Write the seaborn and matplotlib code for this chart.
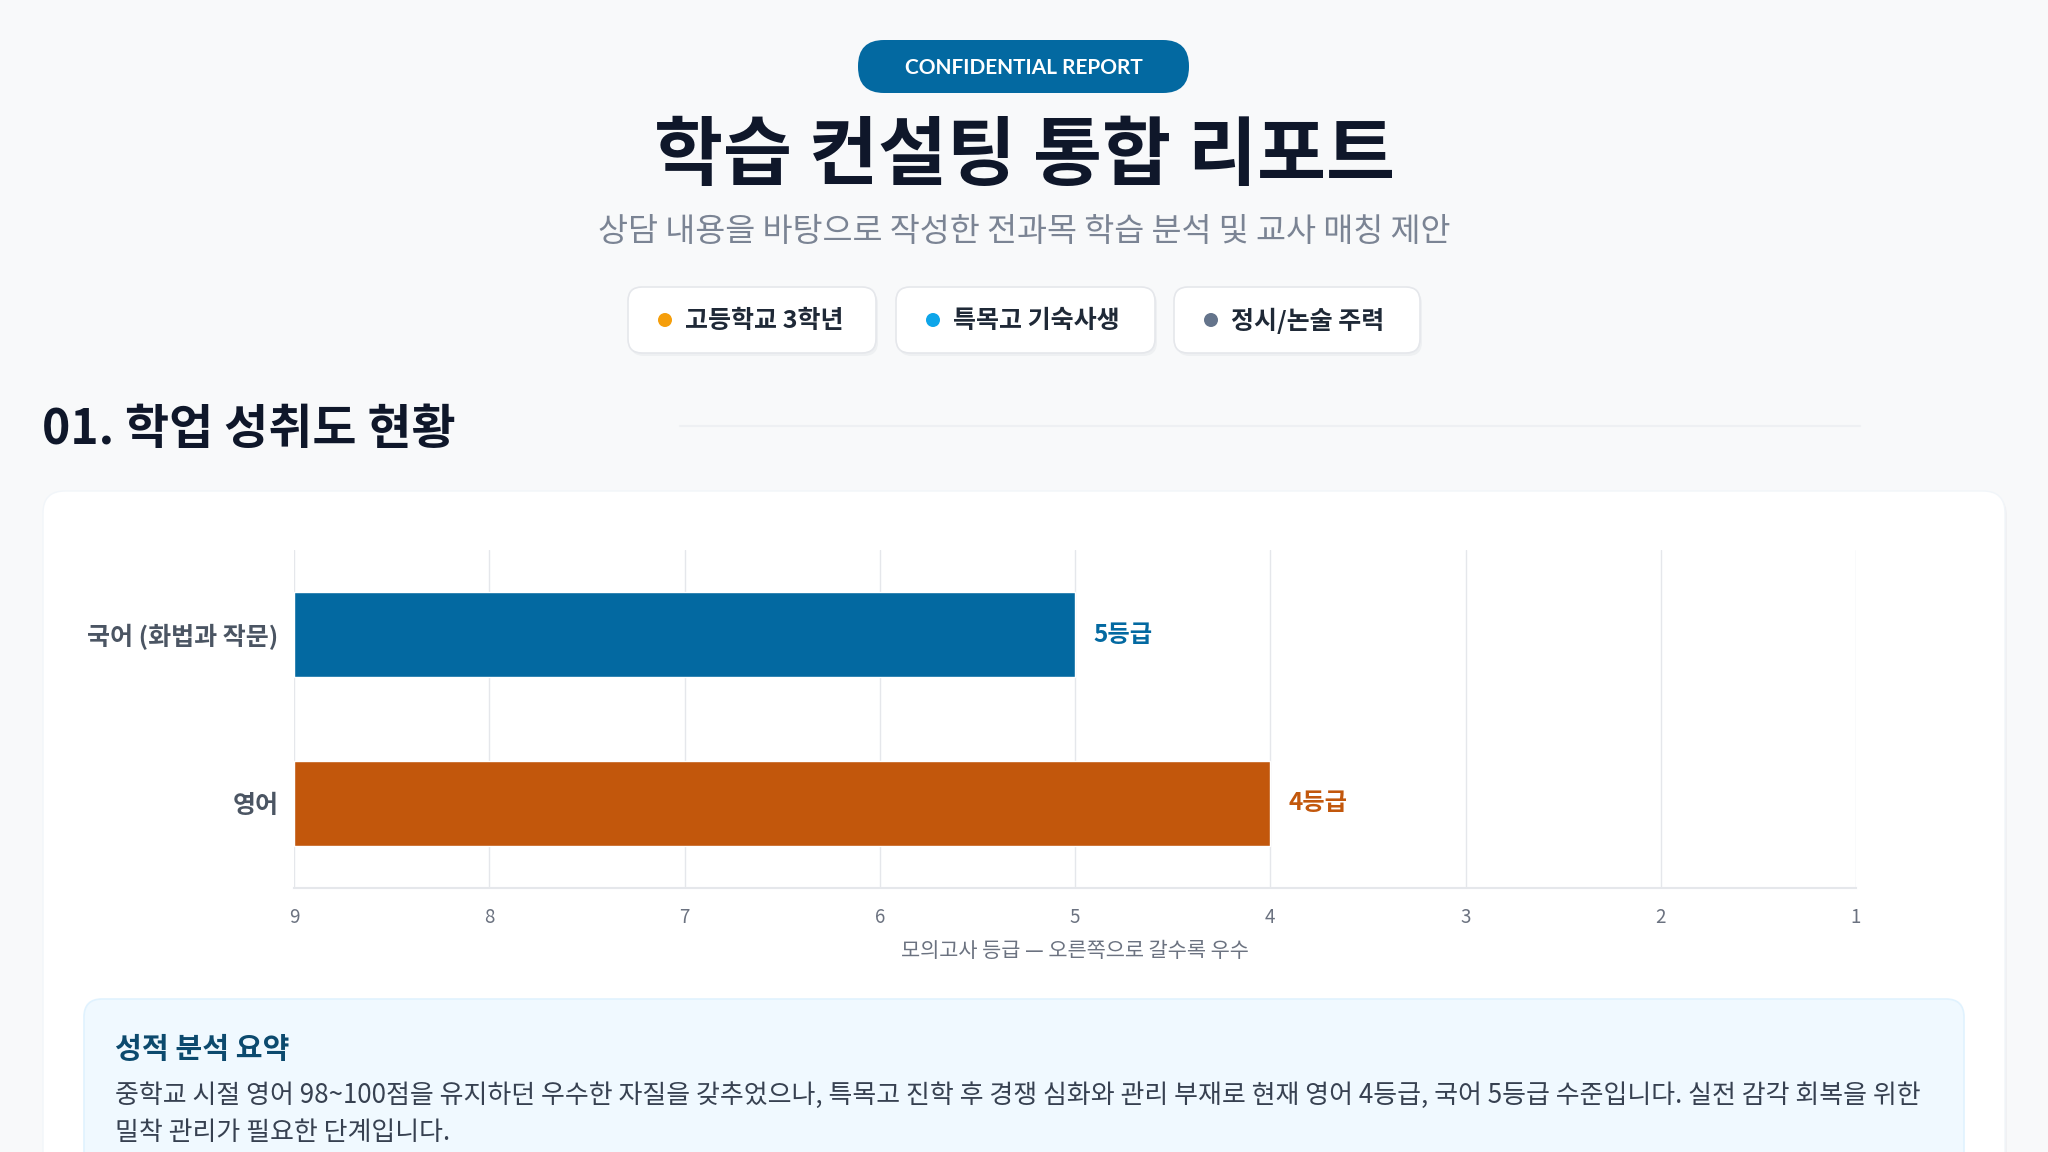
import seaborn as sns
import matplotlib.pyplot as plt
from matplotlib.patches import FancyBboxPatch, Circle

# data
subjects = ['국어 (화법과 작문)', '영어']
grades = [5, 4]
bar_colors = ['#0369A1', '#C2570C']
grade_ticks = [9, 8, 7, 6, 5, 4, 3, 2, 1]
worst_grade = 9

tags = ['고등학교 3학년', '특목고 기숙사생', '정시/논술 주력']
tag_dots = ['#F59E0B', '#0EA5E9', '#64748B']

badge_text = 'CONFIDENTIAL REPORT'
title = '학습 컨설팅 통합 리포트'
subtitle = '상담 내용을 바탕으로 작성한 전과목 학습 분석 및 교사 매칭 제안'
section = '01. 학업 성취도 현황'
x_label = '모의고사 등급 — 오른쪽으로 갈수록 우수'
summary_title = '성적 분석 요약'
summary_lines = [
    '중학교 시절 영어 98~100점을 유지하던 우수한 자질을 갖추었으나, 특목고 진학 후 경쟁 심화와 관리 부재로 현재 영어 4등급, 국어 5등급 수준입니다. 실전 감각 회복을 위한',
    '밀착 관리가 필요한 단계입니다.',
]

sns.set_theme(style='white')
plt.rcParams['font.family'] = ['Noto Sans CJK KR', 'DejaVu Sans']

W, H = 2048, 1152
fig = plt.figure(figsize=(W / 100, H / 100), dpi=100)
fig.patch.set_facecolor('#F8F9FA')

# background layer in pixel coords
bg = fig.add_axes([0, 0, 1, 1], zorder=0)
bg.set_xlim(0, W)
bg.set_ylim(H, 0)
bg.axis('off')


def rbox(x0, y0, x1, y1, r, fc, ec='none', lw=1, z=1):
    p = FancyBboxPatch((x0 + r, y0 + r), (x1 - x0) - 2 * r, (y1 - y0) - 2 * r,
                       boxstyle=f'round,pad={r}', fc=fc, ec=ec, lw=lw, zorder=z,
                       mutation_aspect=1)
    bg.add_patch(p)


# badge
rbox(858, 40, 1189, 93, 26, '#0369A1', z=2)
bg.text(1024, 68, badge_text, color='white', fontsize=15, fontweight='bold',
        family=['Lato', 'DejaVu Sans'], ha='center', va='center', zorder=3)

# title / subtitle
bg.text(1024, 157, title, color='#0F172A', fontsize=54, fontweight='bold',
        ha='center', va='center', zorder=3)
bg.text(1024, 232, subtitle, color='#7B8494', fontsize=23.5, ha='center',
        va='center', zorder=3)

# tag pills
pill_x = [(628, 876), (896, 1155), (1174, 1420)]
for (x0, x1), t, c in zip(pill_x, tags, tag_dots):
    rbox(x0 + 2, 290, x1 + 2, 356, 14, '#EEF0F2', z=1)
    rbox(x0, 287, x1, 353, 14, 'white', ec='#E5E7EB', lw=1.2, z=2)
    bg.add_patch(Circle((x0 + 37, 320), 7, fc=c, ec='none', zorder=3))
    bg.text(x0 + 57, 321, t, color='#1F2937', fontsize=18, fontweight='bold',
            ha='left', va='center', zorder=3)

# section heading
bg.text(42, 430, section, color='#0F172A', fontsize=34.5, fontweight='bold',
        ha='left', va='center', zorder=3)
bg.plot([680, 1860], [426, 426], color='#EEF0F3', lw=1.5, zorder=2)

# card
rbox(45, 494, 2007, 1240, 22, '#F0F1F3', z=1)
rbox(43, 491, 2005, 1240, 22, 'white', ec='#F1F5F9', lw=1, z=2)

# summary box
rbox(84, 999, 1964, 1240, 18, '#F0F9FF', ec='#E0F2FE', lw=1.2, z=3)
bg.text(115, 1049, summary_title, color='#0C4A6E', fontsize=21, fontweight='bold',
        ha='left', va='center', zorder=4)
for i, line in enumerate(summary_lines):
    bg.text(115, 1095 + i * 38, line, color='#374151', fontsize=18.7,
            ha='left', va='center', zorder=4)

# chart: bars measured from the worst grade (9) toward better grades
ax = fig.add_axes([294 / W, 1 - 888 / H, (1856 - 294) / W, (888 - 550) / H], zorder=5)
ax.set_facecolor('none')
gain = [worst_grade - g for g in grades]
sns.barplot(x=gain, y=subjects, hue=subjects, palette=bar_colors, orient='h',
            width=0.5, legend=False, saturation=1, ax=ax, zorder=3)
ax.set_xlim(0, worst_grade - 1)
ax.set_ylim(1.5, -0.5)
ax.set_xticks([worst_grade - g for g in grade_ticks])
ax.set_xticklabels([str(g) for g in grade_ticks])
ax.xaxis.grid(True, color='#E5E7EB', lw=1)
ax.yaxis.grid(False)
ax.set_axisbelow(True)
for s in ['top', 'right', 'left']:
    ax.spines[s].set_visible(False)
ax.spines['bottom'].set_color('#E5E7EB')
ax.spines['bottom'].set_linewidth(1.5)
ax.tick_params(axis='x', length=8, width=1, color='#E5E7EB', colors='#6B7280',
               labelsize=13.5, pad=6)
ax.tick_params(axis='y', length=0, pad=11, labelsize=18, labelcolor='#4B5563')
for lbl in ax.get_yticklabels():
    lbl.set_fontweight('bold')
ax.set_xlabel(x_label, fontsize=15, color='#6B7280', labelpad=8)
ax.set_ylabel('')

for i, (v, g, c) in enumerate(zip(gain, grades, bar_colors)):
    ax.annotate(f'{g}등급', xy=(v, i), xytext=(13, 0), textcoords='offset points',
                ha='left', va='center', color=c, fontsize=17.5, fontweight='bold')

fig.savefig('out.png', dpi=100, facecolor=fig.get_facecolor())
